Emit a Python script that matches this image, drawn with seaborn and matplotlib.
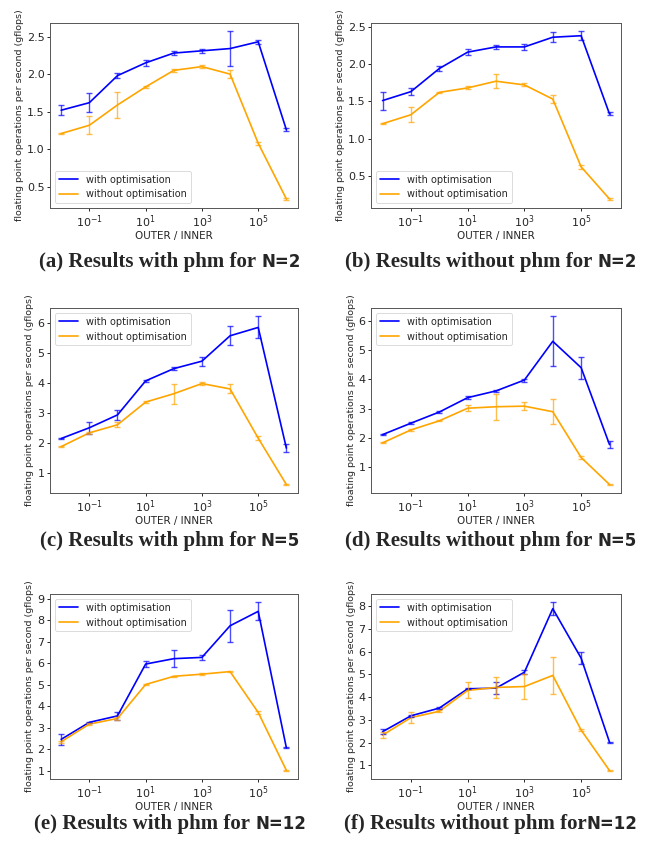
import numpy as np
import pandas as pd
import matplotlib
matplotlib.use("Agg")
import matplotlib.pyplot as plt
import matplotlib.ticker as mticker
import seaborn as sns

# x 축: OUTER / INNER 비율
x_ratio = [1e-2, 1e-1, 1e0, 1e1, 1e2, 1e3, 1e4, 1e5, 1e6]

# (a) with phm, N=2
a_with = [1.52, 1.62, 1.98, 2.15, 2.28, 2.31, 2.34, 2.43, 1.26]
a_with_err = [0.07, 0.13, 0.03, 0.04, 0.03, 0.03, 0.23, 0.03, 0.02]
a_without = [1.21, 1.32, 1.59, 1.83, 2.05, 2.10, 2.00, 1.08, 0.34]
a_without_err = [0.01, 0.12, 0.17, 0.01, 0.02, 0.02, 0.05, 0.02, 0.01]

# (b) without phm, N=2
b_with = [1.51, 1.63, 1.94, 2.16, 2.23, 2.23, 2.36, 2.38, 1.33]
b_with_err = [0.12, 0.05, 0.03, 0.04, 0.03, 0.04, 0.07, 0.06, 0.02]
b_without = [1.20, 1.32, 1.62, 1.68, 1.77, 1.72, 1.53, 0.62, 0.19]
b_without_err = [0.01, 0.10, 0.01, 0.02, 0.09, 0.02, 0.05, 0.03, 0.01]

# (c) with phm, N=5
c_with = [2.14, 2.50, 2.93, 4.07, 4.48, 4.73, 5.58, 5.86, 1.82]
c_with_err = [0.02, 0.20, 0.17, 0.03, 0.05, 0.15, 0.32, 0.37, 0.12]
c_without = [1.87, 2.33, 2.60, 3.36, 3.64, 3.98, 3.80, 2.15, 0.60]
c_without_err = [0.01, 0.03, 0.08, 0.04, 0.33, 0.05, 0.15, 0.06, 0.01]

# (d) without phm, N=5
d_with = [2.12, 2.51, 2.89, 3.38, 3.61, 3.98, 5.30, 4.40, 1.78]
d_with_err = [0.03, 0.03, 0.05, 0.06, 0.03, 0.05, 0.85, 0.38, 0.13]
d_without = [1.84, 2.28, 2.59, 3.02, 3.07, 3.09, 2.90, 1.34, 0.42]
d_without_err = [0.02, 0.02, 0.02, 0.11, 0.44, 0.14, 0.42, 0.05, 0.01]

# (e) with phm, N=12
e_with = [2.47, 3.26, 3.56, 5.97, 6.22, 6.28, 7.75, 8.42, 2.08]
e_with_err = [0.25, 0.03, 0.20, 0.15, 0.40, 0.13, 0.75, 0.42, 0.03]
e_without = [2.36, 3.18, 3.44, 5.02, 5.40, 5.50, 5.62, 3.72, 1.03]
e_without_err = [0.05, 0.05, 0.05, 0.02, 0.02, 0.04, 0.03, 0.05, 0.02]

# (f) without phm, N=12
f_with = [2.48, 3.18, 3.52, 4.37, 4.40, 5.10, 7.90, 5.72, 2.02]
f_with_err = [0.10, 0.05, 0.03, 0.03, 0.25, 0.08, 0.28, 0.25, 0.02]
f_without = [2.33, 3.10, 3.38, 4.30, 4.43, 4.47, 4.96, 2.55, 0.77]
f_without_err = [0.12, 0.25, 0.05, 0.35, 0.48, 0.53, 0.80, 0.05, 0.01]

# 캡션: 본문 부분 + N 부분
caption_main = [
    "(a) Results with phm for ",
    "(b) Results without phm for ",
    "(c) Results with phm for ",
    "(d) Results without phm for ",
    "(e) Results with phm for ",
    "(f) Results without phm for",
]
caption_n = ["N=2", "N=2", "N=5", "N=5", "N=12", "N=12"]
legend_locs = ["lower left", "lower left", "upper left", "upper left", "upper left", "upper left"]
ytick_step = [0.5, 0.5, 1, 1, 1, 1]

panels = [
    (a_with, a_with_err, a_without, a_without_err),
    (b_with, b_with_err, b_without, b_without_err),
    (c_with, c_with_err, c_without, c_without_err),
    (d_with, d_with_err, d_without, d_without_err),
    (e_with, e_with_err, e_without, e_without_err),
    (f_with, f_with_err, f_without, f_without_err),
]

sns.set_style("ticks")
plt.rcParams["font.family"] = ["DejaVu Sans"]

fig = plt.figure(figsize=(6.57, 8.46), dpi=100)

# 축 위치 (figure 비율)
col_left = [0.076, 0.565]
col_width = [0.377, 0.380]
row_bottom = [0.754, 0.417, 0.079]
row_height = 0.219
cap_y = [0.690, 0.361, 0.026]
cap_x = [0.259, 0.747]

colors = {"with optimisation": "blue", "without optimisation": "orange"}

caption_pairs = []
for i, (yw, ew, yo, eo) in enumerate(panels):
    r, c = divmod(i, 2)
    ax = fig.add_axes([col_left[c], row_bottom[r], col_width[c], row_height])

    df = pd.DataFrame({
        "x": x_ratio * 2,
        "y": yw + yo,
        "series": ["with optimisation"] * len(x_ratio) + ["without optimisation"] * len(x_ratio),
    })
    sns.lineplot(data=df, x="x", y="y", hue="series", palette=colors, ax=ax, linewidth=1.2)

    ax.errorbar(x_ratio, yw, yerr=ew, fmt="none", ecolor="blue", elinewidth=1.0,
                capsize=2, capthick=1.0, alpha=0.7)
    ax.errorbar(x_ratio, yo, yerr=eo, fmt="none", ecolor="orange", elinewidth=1.0,
                capsize=2, capthick=1.0, alpha=0.7)

    ax.set_xscale("log")
    ax.set_xlim(10 ** -2.4, 10 ** 6.4)
    ax.xaxis.set_major_locator(mticker.FixedLocator([1e-1, 1e1, 1e3, 1e5]))
    ax.xaxis.set_minor_locator(mticker.NullLocator())
    ax.yaxis.set_major_locator(mticker.MultipleLocator(ytick_step[i]))
    ax.tick_params(labelsize=8, length=2.5, width=0.7, pad=1.5)
    for sp in ax.spines.values():
        sp.set_linewidth(0.7)
        sp.set_color("#555555")

    ax.set_xlabel("OUTER / INNER", fontsize=7.5, labelpad=0.5)
    ax.set_ylabel("floating point operations per second (gflops)", fontsize=6.8, labelpad=2)

    leg = ax.legend(loc=legend_locs[i], fontsize=7, title=None)
    leg.get_frame().set_linewidth(0.6)

    t1 = fig.text(0, cap_y[r], caption_main[i], ha="left", va="center",
                  family="Liberation Serif", fontweight="bold", fontsize=15)
    t2 = fig.text(0, cap_y[r], caption_n[i], ha="left", va="center",
                  family="DejaVu Sans", fontweight="bold", fontsize=12)
    caption_pairs.append((t1, t2, cap_x[c]))

# 캡션 가운데 정렬
fig.canvas.draw()
renderer = fig.canvas.get_renderer()
fw = fig.bbox.width
for t1, t2, xc in caption_pairs:
    w1 = t1.get_window_extent(renderer).width / fw
    w2 = t2.get_window_extent(renderer).width / fw
    x0 = xc - (w1 + w2) / 2
    t1.set_x(x0)
    t2.set_x(x0 + w1)

fig.savefig("out.png", dpi=100)
